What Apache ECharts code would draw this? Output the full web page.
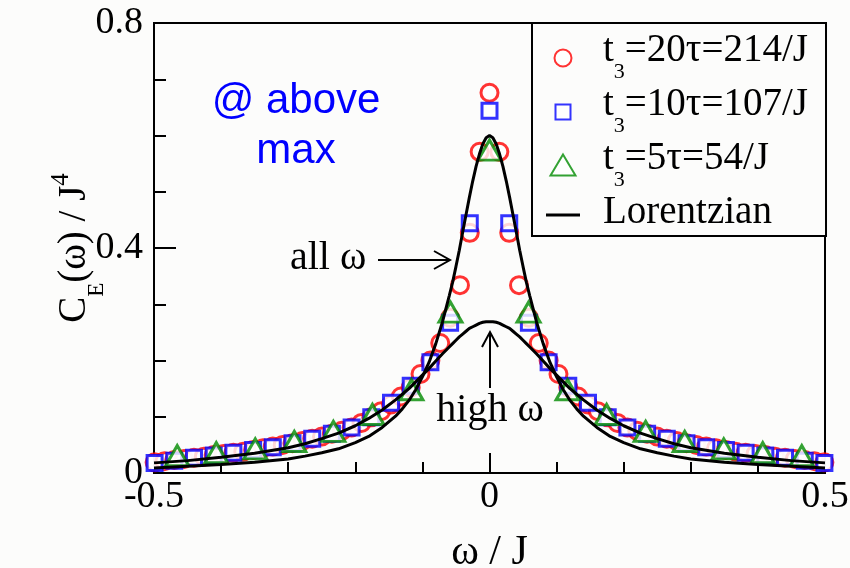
<!DOCTYPE html>
<html>
<head>
<meta charset="utf-8">
<script src="https://cdn.jsdelivr.net/npm/echarts@6/dist/echarts.min.js"></script>
<style>
  html, body { margin: 0; padding: 0; background: #fcfcfb; }
  #chart { width: 850px; height: 568px; }
</style>
</head>
<body>
<div id="chart"></div>
<script>
// red circles: t3 = 20tau
var redW = [-0.4991,-0.4844,-0.4698,-0.4551,-0.4404,-0.4257,-0.4110,-0.3964,-0.3817,-0.3670,-0.3523,-0.3376,-0.3230,-0.3083,-0.2936,-0.2789,-0.2642,-0.2496,-0.2349,-0.2202,-0.2055,-0.1908,-0.1762,-0.1615,-0.1468,-0.1321,-0.1174,-0.1028,-0.0881,-0.0734,-0.0587,-0.0440,-0.0294,-0.0147,
  0,
  0.0147,0.0294,0.0440,0.0587,0.0734,0.0881,0.1028,0.1174,0.1321,0.1468,0.1615,0.1762,0.1908,0.2055,0.2202,0.2349,0.2496,0.2642,0.2789,0.2936,0.3083,0.3230,0.3376,0.3523,0.3670,0.3817,0.3964,0.4110,0.4257,0.4404,0.4551,0.4698,0.4844,0.4991];
var redC = [0.019,0.021,0.023,0.025,0.027,0.029,0.032,0.034,0.036,0.038,0.041,0.044,0.047,0.050,0.053,0.057,0.061,0.065,0.070,0.075,0.081,0.089,0.099,0.110,0.122,0.136,0.152,0.176,0.200,0.231,0.276,0.334,0.427,0.571,
  0.676,
  0.571,0.427,0.334,0.276,0.231,0.200,0.176,0.152,0.136,0.122,0.110,0.099,0.089,0.081,0.075,0.070,0.065,0.061,0.057,0.053,0.050,0.047,0.044,0.041,0.038,0.036,0.034,0.032,0.029,0.027,0.025,0.023,0.021,0.019];

// blue squares: t3 = 10tau
var blueW = [-0.4991,-0.4698,-0.4404,-0.4110,-0.3817,-0.3523,-0.3230,-0.2936,-0.2642,-0.2349,-0.2055,-0.1762,-0.1468,-0.1174,-0.0881,-0.0587,-0.0294,
  0,
  0.0294,0.0587,0.0881,0.1174,0.1468,0.1762,0.2055,0.2349,0.2642,0.2936,0.3230,0.3523,0.3817,0.4110,0.4404,0.4698,0.4991];
var blueC = [0.018,0.022,0.027,0.031,0.036,0.041,0.046,0.053,0.061,0.070,0.081,0.099,0.125,0.155,0.197,0.267,0.444,
  0.644,
  0.444,0.267,0.197,0.155,0.125,0.099,0.081,0.070,0.061,0.053,0.046,0.041,0.036,0.031,0.027,0.022,0.018];

// green triangles: t3 = 5tau
var greenW = [-0.4654,-0.4072,-0.3491,-0.2909,-0.2327,-0.1745,-0.1164,-0.0582,0,0.0582,0.1164,0.1745,0.2327,0.2909,0.3491,0.4072,0.4654];
var greenC = [0.031,0.036,0.043,0.056,0.074,0.104,0.148,0.286,0.574,0.286,0.148,0.104,0.074,0.056,0.043,0.036,0.031];

// lorentzian curves
var curveW = [-0.50,-0.45,-0.40,-0.35,-0.30,-0.275,-0.25,-0.225,-0.20,-0.18,-0.16,-0.14,-0.13,-0.12,-0.11,-0.10,-0.09,-0.08,-0.07,-0.06,-0.055,-0.05,-0.045,-0.04,-0.035,-0.03,-0.025,-0.02,-0.015,-0.01,-0.005,
  0,
  0.005,0.01,0.015,0.02,0.025,0.03,0.035,0.04,0.045,0.05,0.055,0.06,0.07,0.08,0.09,0.10,0.11,0.12,0.13,0.14,0.16,0.18,0.20,0.225,0.25,0.275,0.30,0.35,0.40,0.45,0.50];
var allC = [0.009,0.012,0.015,0.019,0.025,0.030,0.036,0.043,0.054,0.065,0.081,0.101,0.114,0.129,0.148,0.171,0.197,0.230,0.269,0.315,0.339,0.367,0.396,0.428,0.459,0.490,0.519,0.545,0.567,0.585,0.596,
  0.600,
  0.596,0.585,0.567,0.545,0.519,0.490,0.459,0.428,0.396,0.367,0.339,0.315,0.269,0.230,0.197,0.171,0.148,0.129,0.114,0.101,0.081,0.065,0.054,0.043,0.036,0.030,0.025,0.019,0.015,0.012,0.009];
var highC = [0.018,0.022,0.028,0.035,0.045,0.052,0.061,0.071,0.084,0.097,0.112,0.130,0.140,0.150,0.162,0.174,0.186,0.199,0.212,0.224,0.230,0.236,0.242,0.247,0.252,0.257,0.260,0.263,0.266,0.268,0.269,
  0.269,
  0.269,0.268,0.266,0.263,0.260,0.257,0.252,0.247,0.242,0.236,0.230,0.224,0.212,0.199,0.186,0.174,0.162,0.150,0.140,0.130,0.112,0.097,0.084,0.071,0.061,0.052,0.045,0.035,0.028,0.022,0.018];

var xTicks = [-0.5, 0, 0.5];
var yTicks = [0, 0.4, 0.8];

var legendNames = ['r20', 'r10', 'r5', 'Lorentzian'];
var legendText = {
  r20: '{m|t}{s|3}{m|=20τ=214/J}',
  r10: '{m|t}{s|3}{m|=10τ=107/J}',
  r5: '{m|t}{s|3}{m|=5τ=54/J}',
  Lorentzian: '{m|Lorentzian}'
};

function pairs(xs, ys) {
  var out = [];
  for (var i = 0; i < xs.length; i++) out.push([xs[i], ys[i]]);
  return out;
}

var serif = '"Liberation Serif", "Times New Roman", serif';
// legend icons in a 34x36 box (extra moveTo keeps the box size), drawn low like the original
var box = 'path://M0,0 M34,36 ';

var chart = echarts.init(document.getElementById('chart'));
var option = {
  animation: false,
  backgroundColor: '#fcfcfb',
  grid: {
    left: 154, right: 25, top: 23, bottom: 95, outerBoundsMode: 'none',
    show: true, borderColor: '#000', borderWidth: 2
  },
  legend: {
    left: 532, top: 23, orient: 'vertical',
    data: [
      { name: legendNames[0], icon: box + 'M8.5,26 A8.5,8.5 0 0 1 25.5,26 A8.5,8.5 0 0 1 8.5,26 Z' },
      { name: legendNames[1], icon: box + 'M9.5,18.5 H24.5 V33.5 H9.5 Z' },
      { name: legendNames[2], icon: box + 'M17,14.5 L29.5,35.5 L4.5,35.5 Z' },
      { name: legendNames[3], icon: box + 'M0,19.5 H34 V22.5 H0 Z' }
    ],
    symbolKeepAspect: true,
    backgroundColor: '#fcfcfb', borderColor: '#000', borderWidth: 2, borderRadius: 0,
    padding: [8, 18, 4, 13],
    itemWidth: 34, itemHeight: 36, itemGap: 2,
    formatter: function (name) { return legendText[name]; },
    textStyle: {
      padding: [0, 0, 0, 18],
      rich: {
        m: { fontFamily: serif, fontSize: 39, lineHeight: 38, color: '#000', verticalAlign: 'top' },
        s: { fontFamily: serif, fontSize: 22, lineHeight: 22, color: '#000', verticalAlign: 'top', padding: [30, 0, 0, 0] }
      }
    }
  },
  xAxis: {
    type: 'value', min: xTicks[0], max: xTicks[2], interval: 0.5,
    name: 'ω / J', nameLocation: 'middle', nameGap: 59,
    nameTextStyle: { fontFamily: serif, fontSize: 42, color: '#000' },
    axisLine: { onZero: false, lineStyle: { color: '#000', width: 2 } },
    axisTick: { inside: true, length: 20, lineStyle: { color: '#000', width: 2 } },
    minorTick: { show: true, splitNumber: 5, length: 11, lineStyle: { color: '#000', width: 2 } },
    splitLine: { show: false },
    axisLabel: { fontFamily: serif, fontSize: 38, color: '#000', margin: 5 }
  },
  yAxis: {
    type: 'value', min: yTicks[0], max: yTicks[2], interval: 0.4,
    name: '{m|C}{s|E}{m|(ω) / J}{p|4}', nameLocation: 'middle', nameGap: 59, nameMoveOverlap: false,
    nameTextStyle: {
      rich: {
        m: { fontFamily: serif, fontSize: 39, lineHeight: 40, color: '#000', verticalAlign: 'top' },
        s: { fontFamily: serif, fontSize: 23, lineHeight: 23, color: '#000', verticalAlign: 'top', padding: [30, 0, 0, 0] },
        p: { fontFamily: serif, fontSize: 25, lineHeight: 25, color: '#000', verticalAlign: 'top', padding: [-6, 0, 0, 0] }
      }
    },
    axisLine: { onZero: false, lineStyle: { color: '#000', width: 2 } },
    axisTick: { inside: true, length: 22, lineStyle: { color: '#000', width: 2 } },
    minorTick: { show: true, splitNumber: 4, length: 12, lineStyle: { color: '#000', width: 2 } },
    splitLine: { show: false },
    axisLabel: { fontFamily: serif, fontSize: 38, color: '#000', margin: 11 }
  },
  series: [
    {
      name: legendNames[0], type: 'scatter', symbol: 'circle', symbolSize: 17, clip: false, silent: true,
      itemStyle: { color: '#fff', borderColor: '#ff0000', borderWidth: 3 },
      data: pairs(redW, redC)
    },
    {
      name: legendNames[1], type: 'scatter', symbol: 'rect', symbolSize: 15, clip: false, silent: true,
      itemStyle: { color: '#fff', borderColor: '#0000ff', borderWidth: 3 },
      data: pairs(blueW, blueC)
    },
    {
      name: legendNames[2], type: 'scatter', symbol: 'triangle', symbolSize: [23, 20], clip: false, silent: true,
      itemStyle: { color: '#fff', borderColor: '#008b00', borderWidth: 3 },
      data: pairs(greenW, greenC)
    },
    {
      name: legendNames[3], type: 'line', symbol: 'none', silent: true,
      lineStyle: { color: '#000', width: 3 }, itemStyle: { color: '#000' },
      data: pairs(curveW, allC)
    },
    {
      name: legendNames[3], type: 'line', symbol: 'none', silent: true,
      lineStyle: { color: '#000', width: 3 }, itemStyle: { color: '#000' },
      data: pairs(curveW, highC)
    }
  ],
  graphic: [
    {
      type: 'text', x: 296, y: 126, silent: true,
      style: { text: '@ above\nmax', fill: '#0000ff', font: '42px "Liberation Sans", Arial, sans-serif', align: 'center', verticalAlign: 'middle', lineHeight: 50 }
    },
    {
      type: 'text', x: 290, y: 258, silent: true,
      style: { text: 'all ω', fill: '#000', font: '40px ' + serif, align: 'left', verticalAlign: 'middle' }
    },
    {
      type: 'text', x: 490, y: 410, silent: true,
      style: { text: 'high ω', fill: '#000', font: '40px ' + serif, align: 'center', verticalAlign: 'middle' }
    },
    { type: 'line', silent: true, shape: { x1: 378, y1: 260, x2: 450, y2: 260 }, style: { stroke: '#000', lineWidth: 2 } },
    { type: 'polyline', silent: true, shape: { points: [[434, 251], [450, 260], [434, 269]] }, style: { stroke: '#000', lineWidth: 2, fill: null } },
    { type: 'line', silent: true, shape: { x1: 490, y1: 388, x2: 490, y2: 332 }, style: { stroke: '#000', lineWidth: 2 } },
    { type: 'polyline', silent: true, shape: { points: [[482, 347], [490, 332], [498, 347]] }, style: { stroke: '#000', lineWidth: 2, fill: null } }
  ]
};
chart.setOption(option);
</script>
</body>
</html>
